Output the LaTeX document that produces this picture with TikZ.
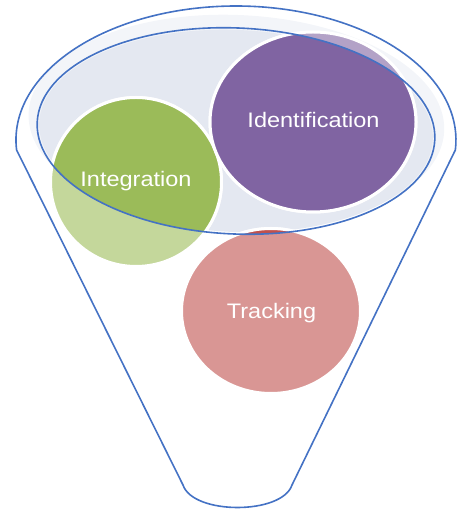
\documentclass[tikz,border=0pt]{standalone}
\usepackage{fontspec}
\setmainfont{Liberation Sans}
\definecolor{funnelblue}{RGB}{68,114,196}
\definecolor{fillblue}{RGB}{228,232,241}
\definecolor{bandgray}{RGB}{243,245,249}
\definecolor{greenD}{RGB}{155,187,89}
\definecolor{greenL}{RGB}{196,215,155}
\definecolor{purpleD}{RGB}{128,100,162}
\definecolor{purpleL}{RGB}{179,162,199}
\definecolor{redD}{RGB}{192,80,77}
\definecolor{redL}{RGB}{217,150,148}
\tikzset{
  outline/.style={draw=funnelblue, line width=1.6pt},
  bubble/.style={draw=white, line width=3pt},
  innerE/.style={rotate around={-2.5:(236,382)}},
  label/.style={text=white, anchor=base, inner sep=0pt, xscale=1.12,
    font=\fontsize{21}{25}\selectfont}
}
\begin{document}
\begin{tikzpicture}[x=1pt,y=1pt]
\useasboundingbox (0,0) rectangle (457,513);
% faint rim and top fill
\fill[bandgray, innerE] (236,391) ellipse[x radius=208pt, y radius=107pt];
\fill[fillblue, innerE] (236,382) ellipse[x radius=197pt, y radius=101pt];
% Integration (green)
\path[bubble, fill=greenL] (136,331) ellipse[x radius=85.5pt, y radius=84.5pt];
\begin{scope}
  \clip[innerE] (236,382) ellipse[x radius=199pt, y radius=103pt];
  \path[bubble, fill=greenD] (136,331) ellipse[x radius=85.5pt, y radius=84.5pt];
\end{scope}
% Identification (purple)
\path[bubble, fill=purpleL] (313,391) ellipse[x radius=103pt, y radius=90pt];
\begin{scope}
  \clip[innerE] (236,382) ellipse[x radius=199pt, y radius=103pt];
  \path[bubble, fill=purpleD] (313,391) ellipse[x radius=103pt, y radius=90pt];
\end{scope}
% Tracking (red)
\path[bubble, fill=redL] (271,202) ellipse[x radius=89.5pt, y radius=82.5pt];
\begin{scope}
  \clip[innerE] (236,382) ellipse[x radius=199pt, y radius=103pt];
  \path[bubble, fill=redD] (271,202) ellipse[x radius=89.5pt, y radius=82.5pt];
\end{scope}
% outlines
\draw[outline, innerE] (236,382) ellipse[x radius=199pt, y radius=103pt];
\draw[outline, line join=round] (16.6,363) arc[start angle=184.28, end angle=-4.28, x radius=220pt, y radius=134pt]
  -- (292,28) .. controls (282,-2) and (193,-2) .. (183,28) -- cycle;
% labels
\node[label] (ident) at (313.5,385) {Identification};
\node[label] (integ) at (136,326) {Integration};
\node[label] (track) at (271.5,194) {Tracking};
\end{tikzpicture}
\end{document}
